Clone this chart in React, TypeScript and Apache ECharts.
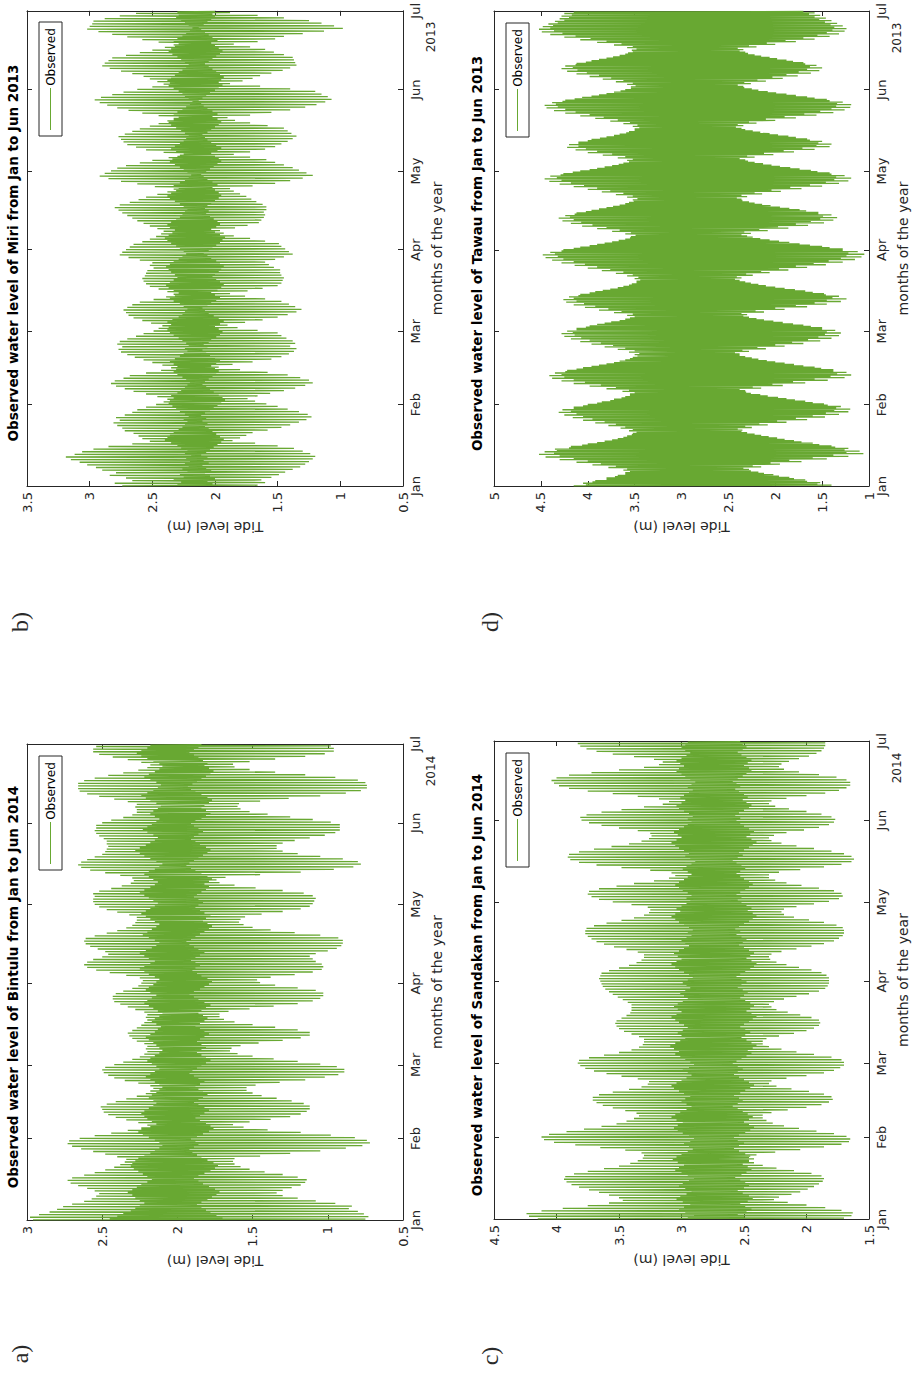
import React, { useEffect, useRef } from "react";
import * as echarts from "echarts";

// ---------- axis vocabulary ----------
const monthNames = ["Jan", "Feb", "Mar", "Apr", "May", "Jun", "Jul"];
const monthStartDays = [0, 31, 59, 90, 120, 151, 181];
// phase of the four daily turning points: higher high, lower low, lower high, higher low
const dailyPhase = [0.05, 0.3, 0.55, 0.8];

// ---------- Miri 2013 (m) ----------
const miriHH = [
  2.74, 2.8, 2.66, 2.71, 2.84, 2.79, 2.9, 2.95, 3.02, 3.08,
  3.15, 3.19, 3.12, 3.06, 2.97, 2.85, 2.66, 2.52, 2.58, 2.61,
  2.65, 2.72, 2.74, 2.78, 2.81, 2.76, 2.79, 2.72, 2.66, 2.62,
  2.55, 2.47, 2.41, 2.38, 2.46, 2.55, 2.65, 2.72, 2.79, 2.83,
  2.8, 2.73, 2.68, 2.55, 2.43, 2.35, 2.42, 2.5, 2.57, 2.64,
  2.7, 2.75, 2.77, 2.74, 2.78, 2.76, 2.7, 2.63, 2.57, 2.49,
  2.45, 2.42, 2.51, 2.58, 2.65, 2.69, 2.71, 2.73, 2.7, 2.66,
  2.6, 2.49, 2.39, 2.33, 2.38, 2.45, 2.52, 2.55, 2.57, 2.58,
  2.56, 2.55, 2.54, 2.49, 2.52, 2.5, 2.6, 2.69, 2.76, 2.74,
  2.71, 2.68, 2.65, 2.58, 2.52, 2.47, 2.43, 2.41, 2.46, 2.52,
  2.57, 2.62, 2.66, 2.7, 2.74, 2.77, 2.8, 2.76, 2.68, 2.61,
  2.55, 2.46, 2.38, 2.33, 2.48, 2.62, 2.75, 2.85, 2.92, 2.88,
  2.83, 2.78, 2.71, 2.6, 2.5, 2.37, 2.28, 2.41, 2.55, 2.63,
  2.7, 2.73, 2.75, 2.77, 2.72, 2.66, 2.6, 2.52, 2.45, 2.38,
  2.33, 2.45, 2.58, 2.69, 2.78, 2.86, 2.92, 2.96, 2.91, 2.82,
  2.73, 2.62, 2.5, 2.41, 2.46, 2.52, 2.57, 2.66, 2.75, 2.84,
  2.9, 2.88, 2.85, 2.82, 2.71, 2.6, 2.5, 2.4, 2.33, 2.45,
  2.58, 2.7, 2.82, 2.93, 3.02, 3.0, 2.98, 2.97, 2.88, 2.76,
  2.63,
];
const miriLL = [
  1.66, 1.6, 1.63, 1.55, 1.49, 1.44, 1.38, 1.32, 1.28, 1.25,
  1.22, 1.2, 1.24, 1.3, 1.37, 1.5, 1.68, 1.86, 1.8, 1.75,
  1.7, 1.58, 1.47, 1.4, 1.33, 1.27, 1.23, 1.26, 1.33, 1.42,
  1.5, 1.59, 1.68, 1.74, 1.66, 1.56, 1.45, 1.36, 1.28, 1.22,
  1.25, 1.32, 1.42, 1.58, 1.8, 1.97, 1.86, 1.7, 1.55, 1.47,
  1.41, 1.37, 1.35, 1.4, 1.36, 1.38, 1.43, 1.47, 1.5, 1.66,
  1.82, 1.9, 1.76, 1.62, 1.5, 1.42, 1.35, 1.31, 1.36, 1.41,
  1.47, 1.6, 1.76, 1.88, 1.74, 1.62, 1.5, 1.47, 1.46, 1.45,
  1.47, 1.48, 1.48, 1.53, 1.57, 1.6, 1.52, 1.45, 1.38, 1.41,
  1.44, 1.47, 1.49, 1.6, 1.72, 1.85, 1.93, 1.96, 1.84, 1.74,
  1.65, 1.63, 1.61, 1.6, 1.61, 1.59, 1.59, 1.62, 1.67, 1.71,
  1.75, 1.8, 1.85, 1.88, 1.7, 1.52, 1.4, 1.3, 1.22, 1.27,
  1.33, 1.38, 1.45, 1.52, 1.59, 1.72, 1.85, 1.72, 1.6, 1.52,
  1.47, 1.42, 1.38, 1.35, 1.39, 1.42, 1.45, 1.58, 1.72, 1.84,
  1.9, 1.72, 1.55, 1.4, 1.28, 1.19, 1.12, 1.07, 1.1, 1.15,
  1.2, 1.4, 1.64, 1.88, 1.78, 1.7, 1.64, 1.55, 1.46, 1.4,
  1.35, 1.36, 1.37, 1.38, 1.45, 1.53, 1.6, 1.72, 1.85, 1.66,
  1.52, 1.45, 1.3, 1.13, 0.98, 1.05, 1.15, 1.25, 1.45, 1.66,
  1.88,
];
const miriLH = [
  2.3, 2.27, 2.33, 2.25, 2.28, 2.22, 2.26, 2.21, 2.24, 2.2,
  2.23, 2.19, 2.24, 2.22, 2.27, 2.3, 2.35, 2.4, 2.38, 2.36,
  2.33, 2.29, 2.26, 2.24, 2.22, 2.25, 2.21, 2.24, 2.28, 2.31,
  2.34, 2.37, 2.36, 2.33, 2.35, 2.3, 2.27, 2.24, 2.22, 2.2,
  2.23, 2.26, 2.3, 2.33, 2.31, 2.3, 2.33, 2.36, 2.32, 2.28,
  2.25, 2.22, 2.24, 2.21, 2.23, 2.26, 2.29, 2.33, 2.36, 2.38,
  2.37, 2.35, 2.38, 2.34, 2.29, 2.26, 2.24, 2.22, 2.25, 2.28,
  2.33, 2.36, 2.32, 2.29, 2.33, 2.37, 2.39, 2.36, 2.33, 2.3,
  2.32, 2.35, 2.37, 2.39, 2.36, 2.33, 2.29, 2.26, 2.23, 2.25,
  2.28, 2.31, 2.35, 2.38, 2.4, 2.37, 2.34, 2.32, 2.36, 2.38,
  2.35, 2.31, 2.28, 2.26, 2.24, 2.22, 2.25, 2.28, 2.32, 2.36,
  2.38, 2.35, 2.31, 2.29, 2.33, 2.28, 2.24, 2.21, 2.19, 2.22,
  2.25, 2.28, 2.32, 2.36, 2.34, 2.3, 2.25, 2.31, 2.35, 2.32,
  2.28, 2.25, 2.23, 2.21, 2.24, 2.27, 2.31, 2.35, 2.37, 2.33,
  2.29, 2.33, 2.3, 2.26, 2.23, 2.2, 2.18, 2.21, 2.24, 2.26,
  2.29, 2.33, 2.37, 2.36, 2.38, 2.35, 2.32, 2.29, 2.26, 2.23,
  2.21, 2.24, 2.27, 2.3, 2.34, 2.37, 2.35, 2.32, 2.29, 2.33,
  2.3, 2.26, 2.23, 2.2, 2.18, 2.21, 2.24, 2.27, 2.31, 2.29,
  2.3,
];
const miriHL = [
  2.02, 2.06, 2.0, 2.04, 2.08, 2.03, 2.07, 2.1, 2.05, 2.09,
  2.06, 2.11, 2.07, 2.04, 2.01, 1.98, 1.95, 1.93, 1.96, 1.99,
  2.02, 2.05, 2.08, 2.06, 2.1, 2.07, 2.11, 2.08, 2.04, 2.01,
  1.98, 1.95, 1.92, 1.94, 1.97, 2.01, 2.04, 2.07, 2.1, 2.08,
  2.05, 2.02, 1.99, 1.97, 2.0, 2.03, 1.99, 1.96, 2.0, 2.04,
  2.07, 2.1, 2.06, 2.09, 2.05, 2.03, 1.99, 1.96, 1.94, 1.97,
  2.0, 1.96, 1.93, 1.97, 2.01, 2.05, 2.08, 2.1, 2.06, 2.03,
  1.99, 1.96, 2.0, 2.03, 1.98, 1.95, 1.93, 1.96, 1.99, 2.02,
  2.0, 1.97, 1.95, 1.93, 1.96, 1.99, 2.03, 2.06, 2.09, 2.05,
  2.02, 1.99, 1.96, 1.94, 1.92, 1.96, 2.0, 2.03, 1.99, 1.96,
  1.98, 2.01, 2.04, 2.07, 2.05, 2.08, 2.06, 2.03, 2.0, 1.97,
  1.95, 1.97, 2.0, 2.02, 1.98, 2.02, 2.06, 2.09, 2.11, 2.07,
  2.04, 2.01, 1.98, 1.95, 1.97, 2.0, 2.03, 1.98, 1.95, 1.99,
  2.03, 2.06, 2.08, 2.1, 2.06, 2.03, 2.0, 1.97, 1.95, 1.98,
  2.02, 1.98, 2.02, 2.06, 2.09, 2.11, 2.13, 2.1, 2.07, 2.04,
  2.0, 1.97, 1.94, 1.97, 1.95, 1.93, 1.96, 1.99, 2.02, 2.05,
  2.08, 2.05, 2.02, 1.99, 1.96, 1.94, 1.97, 2.0, 2.03, 1.98,
  2.02, 2.05, 2.08, 2.11, 2.13, 2.09, 2.06, 2.03, 2.0, 2.02,
  2.0,
];

// ---------- Tawau 2013 (m) ----------
const tawauHH = [
  4.15, 4.05, 3.92, 3.8, 3.68, 3.6, 3.62, 3.78, 3.95, 4.12,
  4.3, 4.45, 4.52, 4.46, 4.35, 4.18, 4.0, 3.82, 3.68, 3.58,
  3.52, 3.56, 3.65, 3.78, 3.92, 4.05, 4.16, 4.25, 4.31, 4.27,
  4.15, 4.0, 3.85, 3.72, 3.6, 3.55, 3.63, 3.8, 3.98, 4.15,
  4.28, 4.38, 4.41, 4.35, 4.22, 4.05, 3.88, 3.72, 3.6, 3.52,
  3.5, 3.56, 3.68, 3.82, 3.96, 4.08, 4.18, 4.25, 4.28, 4.22,
  4.12, 3.98, 3.82, 3.66, 3.55, 3.58, 3.72, 3.88, 4.03, 4.15,
  4.23, 4.26, 4.2, 4.08, 3.92, 3.76, 3.62, 3.53, 3.48, 3.5,
  3.58, 3.7, 3.85, 4.0, 4.14, 4.28, 4.38, 4.45, 4.48, 4.4,
  4.26, 4.08, 3.9, 3.74, 3.6, 3.54, 3.6, 3.74, 3.9, 4.06,
  4.18, 4.27, 4.31, 4.24, 4.12, 3.96, 3.8, 3.66, 3.56, 3.52,
  3.58, 3.7, 3.85, 4.0, 4.15, 4.3, 4.41, 4.46, 4.4, 4.26,
  4.08, 3.9, 3.74, 3.62, 3.58, 3.68, 3.84, 4.0, 4.13, 4.22,
  4.2, 4.1, 3.96, 3.8, 3.66, 3.56, 3.5, 3.52, 3.62, 3.76,
  3.92, 4.08, 4.24, 4.36, 4.44, 4.46, 4.38, 4.24, 4.06, 3.88,
  3.72, 3.6, 3.54, 3.58, 3.7, 3.84, 3.98, 4.12, 4.22, 4.28,
  4.24, 4.12, 3.96, 3.8, 3.66, 3.57, 3.53, 3.58, 3.72, 3.9,
  4.08, 4.25, 4.4, 4.49, 4.52, 4.48, 4.42, 4.35, 4.3, 4.28,
  4.25,
];
const tawauLL = [
  1.4, 1.52, 1.68, 1.85, 2.02, 2.18, 2.28, 2.15, 1.95, 1.72,
  1.45, 1.22, 1.06, 1.1, 1.22, 1.4, 1.6, 1.8, 1.98, 2.15,
  2.3, 2.35, 2.25, 2.08, 1.88, 1.66, 1.47, 1.32, 1.22, 1.2,
  1.3, 1.48, 1.68, 1.88, 2.08, 2.26, 2.32, 2.15, 1.92, 1.68,
  1.44, 1.26, 1.19, 1.24, 1.38, 1.58, 1.8, 2.0, 2.18, 2.32,
  2.38, 2.28, 2.1, 1.9, 1.7, 1.52, 1.4, 1.32, 1.3, 1.36,
  1.5, 1.7, 1.92, 2.12, 2.28, 2.3, 2.12, 1.9, 1.66, 1.45,
  1.3, 1.24, 1.32, 1.48, 1.68, 1.9, 2.1, 2.26, 2.38, 2.36,
  2.24, 2.06, 1.86, 1.66, 1.46, 1.28, 1.15, 1.08, 1.05, 1.12,
  1.28, 1.5, 1.74, 1.96, 2.16, 2.3, 2.26, 2.08, 1.86, 1.65,
  1.48, 1.38, 1.34, 1.4, 1.54, 1.74, 1.95, 2.14, 2.28, 2.36,
  2.3, 2.14, 1.94, 1.72, 1.5, 1.32, 1.22, 1.19, 1.26, 1.42,
  1.62, 1.84, 2.04, 2.22, 2.32, 2.22, 2.02, 1.8, 1.58, 1.42,
  1.4, 1.5, 1.66, 1.86, 2.06, 2.24, 2.36, 2.34, 2.2, 2.0,
  1.78, 1.56, 1.38, 1.26, 1.2, 1.19, 1.28, 1.45, 1.66, 1.88,
  2.08, 2.25, 2.34, 2.26, 2.1, 1.92, 1.76, 1.62, 1.53, 1.5,
  1.56, 1.7, 1.88, 2.06, 2.22, 2.32, 2.34, 2.2, 2.0, 1.78,
  1.58, 1.42, 1.32, 1.26, 1.24, 1.28, 1.34, 1.4, 1.46, 1.52,
  1.58,
];
const tawauLH = [
  4.02, 3.95, 3.8, 3.71, 3.6, 3.55, 3.58, 3.7, 3.86, 4.0,
  4.15, 4.3, 4.36, 4.33, 4.2, 4.06, 3.9, 3.74, 3.62, 3.53,
  3.48, 3.52, 3.6, 3.7, 3.82, 3.95, 4.05, 4.12, 4.18, 4.15,
  4.05, 3.9, 3.76, 3.64, 3.55, 3.5, 3.56, 3.7, 3.86, 4.03,
  4.15, 4.25, 4.28, 4.24, 4.12, 3.96, 3.8, 3.66, 3.55, 3.47,
  3.45, 3.5, 3.6, 3.73, 3.86, 3.98, 4.07, 4.14, 4.16, 4.12,
  4.02, 3.9, 3.75, 3.6, 3.5, 3.52, 3.64, 3.78, 3.92, 4.04,
  4.12, 4.15, 4.1, 3.98, 3.84, 3.68, 3.56, 3.48, 3.44, 3.46,
  3.52, 3.62, 3.76, 3.9, 4.03, 4.15, 4.26, 4.32, 4.35, 4.28,
  4.15, 3.98, 3.82, 3.67, 3.55, 3.49, 3.54, 3.66, 3.8, 3.95,
  4.07, 4.15, 4.19, 4.14, 4.02, 3.88, 3.73, 3.6, 3.51, 3.47,
  3.52, 3.62, 3.76, 3.9, 4.04, 4.18, 4.28, 4.33, 4.29, 4.16,
  3.98, 3.82, 3.67, 3.56, 3.52, 3.6, 3.74, 3.9, 4.02, 4.1,
  4.1, 4.0, 3.87, 3.72, 3.59, 3.5, 3.45, 3.47, 3.55, 3.68,
  3.83, 3.98, 4.13, 4.24, 4.32, 4.34, 4.27, 4.14, 3.96, 3.8,
  3.65, 3.54, 3.49, 3.52, 3.62, 3.75, 3.88, 4.01, 4.11, 4.16,
  4.13, 4.02, 3.88, 3.73, 3.6, 3.52, 3.48, 3.52, 3.64, 3.8,
  3.97, 4.13, 4.27, 4.36, 4.4, 4.37, 4.32, 4.25, 4.2, 4.17,
  4.15,
];
const tawauHL = [
  1.55, 1.66, 1.8, 1.96, 2.12, 2.26, 2.34, 2.24, 2.05, 1.85,
  1.6, 1.38, 1.24, 1.26, 1.36, 1.53, 1.72, 1.9, 2.07, 2.22,
  2.36, 2.4, 2.32, 2.17, 1.98, 1.78, 1.6, 1.46, 1.37, 1.35,
  1.44, 1.6, 1.79, 1.97, 2.16, 2.31, 2.38, 2.24, 2.03, 1.81,
  1.58, 1.41, 1.34, 1.38, 1.51, 1.7, 1.9, 2.09, 2.25, 2.38,
  2.43, 2.35, 2.19, 2.0, 1.82, 1.65, 1.54, 1.47, 1.45, 1.5,
  1.62, 1.81, 2.02, 2.2, 2.34, 2.36, 2.21, 2.0, 1.78, 1.58,
  1.45, 1.39, 1.46, 1.6, 1.79, 2.0, 2.18, 2.32, 2.43, 2.41,
  2.31, 2.15, 1.96, 1.78, 1.59, 1.43, 1.3, 1.24, 1.22, 1.28,
  1.42, 1.63, 1.85, 2.06, 2.24, 2.36, 2.33, 2.17, 1.97, 1.78,
  1.62, 1.52, 1.49, 1.54, 1.67, 1.85, 2.05, 2.22, 2.35, 2.41,
  2.36, 2.22, 2.04, 1.84, 1.63, 1.46, 1.37, 1.35, 1.4, 1.55,
  1.74, 1.95, 2.13, 2.29, 2.38, 2.3, 2.12, 1.91, 1.71, 1.56,
  1.54, 1.63, 1.78, 1.97, 2.16, 2.32, 2.42, 2.4, 2.28, 2.1,
  1.9, 1.69, 1.52, 1.4, 1.35, 1.34, 1.42, 1.58, 1.78, 1.99,
  2.18, 2.33, 2.4, 2.33, 2.19, 2.03, 1.88, 1.75, 1.66, 1.63,
  1.68, 1.81, 1.98, 2.15, 2.29, 2.38, 2.4, 2.28, 2.09, 1.89,
  1.7, 1.55, 1.45, 1.39, 1.37, 1.41, 1.47, 1.53, 1.58, 1.64,
  1.7,
];

// ---------- Bintulu 2014 (m) ----------
const bintuluHH = [
  2.96, 2.98, 2.92, 2.85, 2.8, 2.76, 2.7, 2.62, 2.57, 2.54,
  2.52, 2.55, 2.6, 2.66, 2.71, 2.73, 2.7, 2.62, 2.55, 2.48,
  2.42, 2.38, 2.35, 2.34, 2.4, 2.48, 2.56, 2.64, 2.7, 2.73,
  2.72, 2.65, 2.55, 2.44, 2.33, 2.24, 2.2, 2.26, 2.34, 2.41,
  2.46, 2.49, 2.5, 2.51, 2.47, 2.41, 2.34, 2.27, 2.21, 2.18,
  2.16, 2.18, 2.26, 2.35, 2.42, 2.46, 2.49, 2.5, 2.48, 2.42,
  2.36, 2.3, 2.25, 2.22, 2.2, 2.21, 2.2, 2.22, 2.27, 2.3,
  2.32, 2.33, 2.3, 2.27, 2.24, 2.22, 2.2, 2.21, 2.2, 2.22,
  2.28, 2.33, 2.38, 2.42, 2.43, 2.43, 2.41, 2.36, 2.3, 2.26,
  2.24, 2.23, 2.25, 2.34, 2.45, 2.54, 2.6, 2.62, 2.6, 2.56,
  2.5, 2.46, 2.48, 2.53, 2.58, 2.61, 2.62, 2.61, 2.55, 2.47,
  2.4, 2.34, 2.3, 2.28, 2.27, 2.27, 2.32, 2.4, 2.47, 2.52,
  2.55, 2.56, 2.56, 2.55, 2.56, 2.52, 2.44, 2.37, 2.31, 2.29,
  2.3, 2.38, 2.48, 2.58, 2.64, 2.66, 2.64, 2.6, 2.55, 2.5,
  2.48, 2.47, 2.46, 2.47, 2.47, 2.49, 2.52, 2.54, 2.55, 2.54,
  2.54, 2.5, 2.44, 2.36, 2.3, 2.27, 2.27, 2.28, 2.27, 2.33,
  2.42, 2.52, 2.6, 2.65, 2.66, 2.66, 2.66, 2.62, 2.55, 2.46,
  2.36, 2.26, 2.2, 2.18, 2.24, 2.33, 2.43, 2.52, 2.56, 2.56,
  2.54,
];
const bintuluLL = [
  0.75, 0.73, 0.76, 0.8, 0.86, 0.84, 0.95, 1.08, 1.2, 1.3,
  1.34, 1.3, 1.24, 1.18, 1.15, 1.14, 1.2, 1.3, 1.42, 1.52,
  1.58, 1.62, 1.63, 1.62, 1.45, 1.25, 1.05, 0.88, 0.77, 0.72,
  0.74, 0.82, 0.98, 1.18, 1.4, 1.56, 1.63, 1.52, 1.38, 1.25,
  1.18, 1.14, 1.12, 1.12, 1.16, 1.24, 1.34, 1.44, 1.5, 1.54,
  1.54, 1.48, 1.32, 1.15, 1.02, 0.93, 0.89, 0.89, 0.94, 1.05,
  1.2, 1.36, 1.5, 1.6, 1.65, 1.64, 1.58, 1.46, 1.3, 1.18,
  1.12, 1.12, 1.2, 1.35, 1.5, 1.62, 1.69, 1.72, 1.72, 1.66,
  1.52, 1.36, 1.2, 1.1, 1.05, 1.03, 1.03, 1.08, 1.2, 1.35,
  1.45, 1.47, 1.38, 1.22, 1.1, 1.04, 1.03, 1.04, 1.08, 1.1,
  1.12, 1.08, 1.0, 0.94, 0.91, 0.9, 0.9, 0.93, 1.05, 1.22,
  1.38, 1.5, 1.56, 1.59, 1.58, 1.55, 1.44, 1.3, 1.18, 1.12,
  1.1, 1.09, 1.08, 1.1, 1.16, 1.3, 1.48, 1.62, 1.72, 1.74,
  1.68, 1.45, 1.18, 0.96, 0.83, 0.78, 0.8, 0.9, 1.05, 1.2,
  1.3, 1.34, 1.34, 1.3, 1.22, 1.12, 1.02, 0.95, 0.92, 0.92,
  0.92, 0.98, 1.1, 1.25, 1.4, 1.52, 1.58, 1.6, 1.59, 1.45,
  1.26, 1.05, 0.88, 0.78, 0.74, 0.74, 0.75, 0.8, 0.95, 1.15,
  1.35, 1.52, 1.62, 1.63, 1.52, 1.35, 1.15, 1.02, 0.96, 0.96,
  0.98,
];
const bintuluLH = [
  2.45, 2.4, 2.36, 2.31, 2.28, 2.25, 2.22, 2.25, 2.28, 2.3,
  2.33, 2.3, 2.27, 2.24, 2.2, 2.17, 2.2, 2.23, 2.26, 2.29,
  2.31, 2.3, 2.28, 2.26, 2.22, 2.18, 2.15, 2.12, 2.1, 2.12,
  2.15, 2.19, 2.23, 2.26, 2.24, 2.18, 2.14, 2.17, 2.2, 2.22,
  2.24, 2.22, 2.19, 2.16, 2.14, 2.16, 2.19, 2.17, 2.14, 2.12,
  2.1, 2.12, 2.15, 2.18, 2.21, 2.18, 2.15, 2.12, 2.14, 2.17,
  2.2, 2.18, 2.15, 2.12, 2.1, 2.12, 2.14, 2.16, 2.19, 2.21,
  2.18, 2.15, 2.13, 2.11, 2.14, 2.17, 2.15, 2.12, 2.1, 2.13,
  2.16, 2.19, 2.22, 2.2, 2.17, 2.14, 2.18, 2.21, 2.19, 2.16,
  2.14, 2.12, 2.15, 2.19, 2.22, 2.25, 2.22, 2.18, 2.15, 2.19,
  2.22, 2.25, 2.21, 2.17, 2.14, 2.12, 2.15, 2.19, 2.23, 2.2,
  2.17, 2.14, 2.12, 2.15, 2.18, 2.21, 2.24, 2.21, 2.18, 2.15,
  2.13, 2.16, 2.19, 2.22, 2.25, 2.22, 2.18, 2.15, 2.13, 2.16,
  2.19, 2.22, 2.19, 2.15, 2.12, 2.1, 2.14, 2.18, 2.22, 2.25,
  2.28, 2.25, 2.21, 2.18, 2.15, 2.13, 2.16, 2.2, 2.23, 2.2,
  2.17, 2.14, 2.12, 2.15, 2.18, 2.16, 2.13, 2.11, 2.14, 2.18,
  2.21, 2.24, 2.2, 2.16, 2.13, 2.11, 2.14, 2.18, 2.22, 2.19,
  2.15, 2.12, 2.1, 2.12, 2.16, 2.2, 2.24, 2.27, 2.24, 2.2,
  2.18,
];
const bintuluHL = [
  1.7, 1.74, 1.78, 1.81, 1.84, 1.87, 1.84, 1.8, 1.77, 1.74,
  1.72, 1.75, 1.79, 1.83, 1.86, 1.89, 1.86, 1.82, 1.78, 1.75,
  1.73, 1.76, 1.8, 1.84, 1.87, 1.9, 1.92, 1.89, 1.86, 1.88,
  1.91, 1.87, 1.83, 1.79, 1.76, 1.78, 1.81, 1.85, 1.88, 1.85,
  1.82, 1.79, 1.82, 1.86, 1.89, 1.86, 1.83, 1.8, 1.83, 1.86,
  1.88, 1.85, 1.82, 1.86, 1.89, 1.92, 1.9, 1.87, 1.84, 1.81,
  1.78, 1.81, 1.84, 1.87, 1.84, 1.81, 1.84, 1.87, 1.85, 1.82,
  1.79, 1.82, 1.85, 1.88, 1.85, 1.82, 1.8, 1.83, 1.86, 1.84,
  1.81, 1.78, 1.82, 1.86, 1.89, 1.92, 1.89, 1.85, 1.82, 1.79,
  1.77, 1.8, 1.84, 1.87, 1.9, 1.88, 1.85, 1.88, 1.91, 1.88,
  1.85, 1.82, 1.86, 1.89, 1.92, 1.94, 1.91, 1.88, 1.85, 1.82,
  1.79, 1.77, 1.8, 1.83, 1.81, 1.78, 1.82, 1.85, 1.88, 1.86,
  1.83, 1.86, 1.89, 1.87, 1.84, 1.81, 1.79, 1.82, 1.79, 1.77,
  1.8, 1.84, 1.88, 1.91, 1.94, 1.92, 1.89, 1.86, 1.83, 1.8,
  1.78, 1.81, 1.85, 1.88, 1.91, 1.89, 1.86, 1.83, 1.86, 1.89,
  1.91, 1.88, 1.84, 1.81, 1.78, 1.81, 1.84, 1.82, 1.79, 1.77,
  1.8, 1.84, 1.88, 1.91, 1.93, 1.9, 1.87, 1.84, 1.81, 1.78,
  1.76, 1.79, 1.82, 1.8, 1.83, 1.86, 1.89, 1.92, 1.89, 1.86,
  1.84,
];

// ---------- Sandakan 2014 (m) ----------
const sandakanHH = [
  4.15, 4.22, 4.24, 4.12, 3.95, 3.75, 3.58, 3.47, 3.5, 3.58,
  3.66, 3.74, 3.82, 3.88, 3.92, 3.94, 3.93, 3.86, 3.75, 3.62,
  3.5, 3.41, 3.35, 3.31, 3.3, 3.32, 3.45, 3.65, 3.85, 4.02,
  4.1, 4.12, 4.06, 3.92, 3.78, 3.64, 3.52, 3.44, 3.38, 3.34,
  3.36, 3.45, 3.55, 3.63, 3.68, 3.71, 3.71, 3.66, 3.55, 3.42,
  3.32, 3.27, 3.26, 3.35, 3.48, 3.6, 3.7, 3.77, 3.81, 3.83,
  3.82, 3.74, 3.62, 3.5, 3.4, 3.34, 3.31, 3.3, 3.3, 3.34,
  3.4, 3.46, 3.5, 3.52, 3.53, 3.52, 3.48, 3.44, 3.41, 3.4,
  3.4, 3.4, 3.43, 3.47, 3.51, 3.55, 3.58, 3.61, 3.63, 3.64,
  3.65, 3.66, 3.65, 3.64, 3.58, 3.5, 3.42, 3.36, 3.32, 3.3,
  3.3, 3.35, 3.44, 3.54, 3.62, 3.68, 3.72, 3.75, 3.77, 3.77,
  3.76, 3.7, 3.6, 3.48, 3.38, 3.3, 3.26, 3.25, 3.27, 3.4,
  3.55, 3.66, 3.72, 3.75, 3.74, 3.66, 3.52, 3.38, 3.22, 3.1,
  3.05, 3.08, 3.25, 3.48, 3.68, 3.82, 3.89, 3.91, 3.9, 3.82,
  3.7, 3.56, 3.42, 3.32, 3.26, 3.24, 3.25, 3.35, 3.5, 3.64,
  3.74, 3.8, 3.81, 3.76, 3.64, 3.48, 3.3, 3.15, 3.1, 3.18,
  3.35, 3.55, 3.75, 3.9, 3.98, 4.02, 4.04, 4.0, 3.9, 3.72,
  3.5, 3.3, 3.18, 3.15, 3.22, 3.38, 3.55, 3.68, 3.76, 3.81,
  3.83,
];
const sandakanLL = [
  1.7, 1.64, 1.63, 1.72, 1.85, 2.0, 2.15, 2.26, 2.22, 2.12,
  2.05, 1.99, 1.94, 1.9, 1.87, 1.86, 1.88, 1.96, 2.1, 2.24,
  2.35, 2.42, 2.46, 2.46, 2.4, 2.25, 2.05, 1.86, 1.72, 1.66,
  1.65, 1.68, 1.78, 1.92, 2.06, 2.18, 2.27, 2.32, 2.35, 2.35,
  2.28, 2.15, 2.0, 1.88, 1.82, 1.79, 1.8, 1.86, 1.98, 2.12,
  2.24, 2.3, 2.28, 2.16, 2.0, 1.86, 1.78, 1.73, 1.7, 1.7,
  1.72, 1.8, 1.94, 2.08, 2.2, 2.3, 2.35, 2.35, 2.32, 2.22,
  2.1, 2.0, 1.94, 1.9, 1.89, 1.9, 1.96, 2.05, 2.15, 2.24,
  2.28, 2.3, 2.26, 2.18, 2.08, 1.98, 1.9, 1.85, 1.83, 1.82,
  1.82, 1.82, 1.84, 1.88, 1.96, 2.06, 2.16, 2.24, 2.29, 2.3,
  2.28, 2.2, 2.08, 1.96, 1.86, 1.78, 1.74, 1.71, 1.7, 1.7,
  1.71, 1.76, 1.86, 1.98, 2.1, 2.18, 2.2, 2.18, 2.08, 1.94,
  1.82, 1.74, 1.71, 1.72, 1.78, 1.9, 2.04, 2.16, 2.25, 2.3,
  2.3, 2.22, 2.05, 1.86, 1.72, 1.64, 1.62, 1.64, 1.7, 1.8,
  1.94, 2.08, 2.2, 2.28, 2.3, 2.26, 2.16, 2.02, 1.9, 1.82,
  1.78, 1.77, 1.8, 1.88, 2.0, 2.14, 2.25, 2.3, 2.28, 2.16,
  2.0, 1.85, 1.74, 1.68, 1.65, 1.65, 1.68, 1.76, 1.9, 2.06,
  2.18, 2.22, 2.2, 2.14, 2.06, 1.98, 1.92, 1.88, 1.86, 1.85,
  1.85,
];
const sandakanLH = [
  2.95, 2.9, 2.97, 3.02, 2.98, 2.93, 2.99, 3.04, 3.01, 2.96,
  2.92, 2.97, 3.02, 2.99, 2.94, 2.9, 2.95, 3.0, 3.05, 3.02,
  2.98, 3.03, 3.07, 3.04, 3.0, 2.95, 2.91, 2.94, 2.98, 2.93,
  2.9, 2.94, 2.99, 3.03, 3.06, 3.03, 2.99, 3.04, 3.08, 3.05,
  3.01, 2.96, 2.92, 2.96, 3.0, 2.97, 2.93, 2.98, 3.02, 3.06,
  3.08, 3.04, 3.0, 2.96, 2.92, 2.95, 2.99, 2.94, 2.9, 2.93,
  2.97, 3.01, 3.05, 3.02, 3.06, 3.09, 3.05, 3.01, 2.97, 3.0,
  3.03, 2.99, 2.95, 2.98, 3.02, 3.05, 3.08, 3.04, 3.0, 3.03,
  3.06, 3.03, 2.99, 2.95, 2.98, 3.01, 2.97, 2.93, 2.96, 2.99,
  2.95, 2.91, 2.94, 2.98, 3.02, 3.05, 3.08, 3.04, 3.0, 3.03,
  3.06, 3.02, 2.98, 2.94, 2.97, 3.0, 2.96, 2.92, 2.95, 2.91,
  2.94, 2.98, 3.02, 3.05, 3.08, 3.05, 3.01, 3.04, 3.0, 2.96,
  2.93, 2.96, 2.92, 2.95, 2.99, 3.02, 3.05, 3.02, 2.98, 2.95,
  2.92, 2.95, 2.99, 2.96, 2.92, 2.89, 2.93, 2.97, 2.94, 2.98,
  3.02, 3.05, 3.08, 3.04, 3.0, 3.03, 3.06, 3.02, 2.98, 2.95,
  2.92, 2.95, 2.91, 2.94, 2.98, 3.02, 3.04, 3.0, 2.97, 3.01,
  2.98, 2.94, 2.91, 2.95, 2.92, 2.89, 2.93, 2.97, 3.0, 3.04,
  3.02, 2.98, 3.01, 3.04, 3.0, 2.96, 2.93, 2.97, 3.0, 2.97,
  2.95,
];
const sandakanHL = [
  2.5, 2.55, 2.48, 2.44, 2.49, 2.53, 2.47, 2.43, 2.46, 2.51,
  2.55, 2.5, 2.46, 2.49, 2.53, 2.57, 2.52, 2.48, 2.44, 2.47,
  2.51, 2.46, 2.42, 2.45, 2.49, 2.54, 2.58, 2.54, 2.5, 2.55,
  2.58, 2.54, 2.49, 2.45, 2.42, 2.46, 2.5, 2.46, 2.43, 2.47,
  2.51, 2.55, 2.59, 2.55, 2.51, 2.54, 2.58, 2.53, 2.49, 2.45,
  2.42, 2.46, 2.5, 2.54, 2.58, 2.55, 2.51, 2.55, 2.59, 2.56,
  2.52, 2.48, 2.44, 2.47, 2.43, 2.4, 2.44, 2.48, 2.52, 2.49,
  2.45, 2.49, 2.53, 2.5, 2.46, 2.43, 2.4, 2.44, 2.48, 2.45,
  2.42, 2.45, 2.49, 2.53, 2.5, 2.47, 2.51, 2.55, 2.52, 2.48,
  2.52, 2.56, 2.53, 2.49, 2.45, 2.42, 2.4, 2.44, 2.48, 2.45,
  2.42, 2.46, 2.5, 2.54, 2.51, 2.48, 2.52, 2.56, 2.53, 2.57,
  2.54, 2.5, 2.46, 2.43, 2.4, 2.43, 2.47, 2.44, 2.48, 2.52,
  2.55, 2.52, 2.56, 2.53, 2.49, 2.46, 2.43, 2.46, 2.5, 2.53,
  2.56, 2.53, 2.49, 2.52, 2.56, 2.59, 2.55, 2.51, 2.54, 2.5,
  2.46, 2.43, 2.4, 2.44, 2.48, 2.45, 2.42, 2.46, 2.5, 2.53,
  2.56, 2.53, 2.57, 2.54, 2.5, 2.46, 2.44, 2.48, 2.51, 2.47,
  2.5, 2.54, 2.57, 2.53, 2.56, 2.59, 2.55, 2.51, 2.48, 2.44,
  2.46, 2.5, 2.47, 2.44, 2.48, 2.52, 2.55, 2.51, 2.48, 2.51,
  2.53,
];

// ---------- styling ----------
const LINE_COLOR = "#68a832";
const AXIS_COLOR = "#262626";
const SANS = '"DejaVu Sans", "Liberation Sans", sans-serif';

type Panel = {
  letter: string;
  station: string;
  year: string;
  min: number;
  max: number;
  hh: number[];
  ll: number[];
  lh: number[];
  hl: number[];
  left: number;
  top: number;
  width: number;
  height: number;
  titleX: number;
  letterX: number;
  letterY: number;
};

const panels: Panel[] = [
  { letter: "b)", station: "Miri", year: "2013", min: 0.5, max: 3.5, hh: miriHH, ll: miriLL, lh: miriLH, hl: miriHL,
    left: 27, top: 10, width: 376, height: 476, titleX: 13, letterX: 20, letterY: 622 },
  { letter: "d)", station: "Tawau", year: "2013", min: 1, max: 5, hh: tawauHH, ll: tawauLL, lh: tawauLH, hl: tawauHL,
    left: 494, top: 11, width: 375, height: 475, titleX: 477, letterX: 490, letterY: 622 },
  { letter: "a)", station: "Bintulu", year: "2014", min: 0.5, max: 3, hh: bintuluHH, ll: bintuluLL, lh: bintuluLH, hl: bintuluHL,
    left: 27, top: 744, width: 376, height: 476, titleX: 13, letterX: 20, letterY: 1354 },
  { letter: "c)", station: "Sandakan", year: "2014", min: 1.5, max: 4.5, hh: sandakanHH, ll: sandakanLL, lh: sandakanLH, hl: sandakanHL,
    left: 494, top: 741, width: 375, height: 478, titleX: 477, letterX: 490, letterY: 1356 },
];

function buildSeries(p: Panel): [number, number][] {
  const out: [number, number][] = [];
  for (let d = 0; d < p.hh.length; d++) {
    out.push([p.hh[d], d + dailyPhase[0]]);
    out.push([p.ll[d], d + dailyPhase[1]]);
    out.push([p.lh[d], d + dailyPhase[2]]);
    out.push([p.hl[d], d + dailyPhase[3]]);
  }
  return out;
}

function buildOption() {
  const grid: any[] = [];
  const xAxis: any[] = [];
  const yAxis: any[] = [];
  const series: any[] = [];
  const graphic: any[] = [];

  panels.forEach((p, i) => {
    grid.push({ left: p.left, top: p.top, width: p.width, height: p.height, containLabel: false });

    const tick = { show: true, inside: true, length: 5, lineStyle: { color: AXIS_COLOR, width: 1 } };
    const line = { show: true, onZero: false, lineStyle: { color: AXIS_COLOR, width: 1 } };

    xAxis.push({
      gridIndex: i, type: "value", min: p.min, max: p.max, interval: 0.5, inverse: true, position: "bottom",
      axisLine: line, axisTick: tick, splitLine: { show: false },
      axisLabel: { rotate: 90, fontSize: 13, fontFamily: SANS, color: AXIS_COLOR, margin: 6 },
      name: "Tide level (m)", nameLocation: "middle", nameGap: 34, nameRotate: 180,
      nameTextStyle: { fontSize: 14, fontFamily: SANS, color: AXIS_COLOR },
    });
    xAxis.push({
      gridIndex: i, type: "value", min: p.min, max: p.max, interval: 0.5, inverse: true, position: "top",
      axisLine: line, axisTick: tick, splitLine: { show: false }, axisLabel: { show: false },
    });

    yAxis.push({
      gridIndex: i, type: "value", min: 0, max: 181, position: "right",
      axisLine: line, axisTick: { ...tick, customValues: monthStartDays }, splitLine: { show: false },
      axisLabel: {
        rotate: 90, fontSize: 13, fontFamily: SANS, color: AXIS_COLOR, margin: 6,
        customValues: monthStartDays,
        formatter: (v: number) => monthNames[monthStartDays.indexOf(Math.round(v))] ?? "",
      },
      name: "months of the year", nameLocation: "middle", nameGap: 27, nameRotate: 90,
      nameTextStyle: { fontSize: 14, fontFamily: SANS, color: AXIS_COLOR },
    });
    yAxis.push({
      gridIndex: i, type: "value", min: 0, max: 181, position: "left",
      axisLine: line, axisTick: { ...tick, customValues: monthStartDays }, splitLine: { show: false },
      axisLabel: { show: false },
    });

    series.push({
      type: "line", name: "Observed", xAxisIndex: i * 2, yAxisIndex: i * 2,
      data: buildSeries(p), symbol: "none", showSymbol: false, silent: true,
      lineStyle: { color: LINE_COLOR, width: 1.3 }, itemStyle: { color: LINE_COLOR },
      clip: true, animation: false,
    });

    const right = p.left + p.width;
    const midY = p.top + p.height / 2 + 5;
    // title
    graphic.push({
      type: "text", x: p.titleX, y: midY, rotation: Math.PI / 2, z: 100,
      style: {
        text: `Observed water level of ${p.station} from Jan to Jun ${p.year}`,
        font: `bold 13.5px ${SANS}`, fill: "#000", align: "center", verticalAlign: "middle",
      },
    });
    // year under the last month tick
    graphic.push({
      type: "text", x: right + 28, y: p.top + 27, rotation: Math.PI / 2, z: 100,
      style: { text: p.year, font: `12px ${SANS}`, fill: AXIS_COLOR, align: "center", verticalAlign: "middle" },
    });
    // legend box
    const bx = p.left + 12;
    const by = p.top + 12;
    graphic.push({
      type: "rect", z: 100, shape: { x: bx, y: by, width: 23, height: 114 },
      style: { fill: "#fff", stroke: AXIS_COLOR, lineWidth: 1 },
    });
    graphic.push({
      type: "text", x: bx + 11.5, y: by + 35, rotation: Math.PI / 2, z: 101,
      style: { text: "Observed", font: `12px ${SANS}`, fill: "#000", align: "center", verticalAlign: "middle" },
    });
    graphic.push({
      type: "line", z: 101, shape: { x1: bx + 11.5, y1: by + 66, x2: bx + 11.5, y2: by + 108 },
      style: { stroke: LINE_COLOR, lineWidth: 1 },
    });
    // panel letter
    graphic.push({
      type: "text", x: p.letterX, y: p.letterY, rotation: Math.PI / 2, z: 100,
      style: { text: p.letter, font: '24px "Liberation Serif", serif', fill: "#2a2a2a", align: "center", verticalAlign: "middle" },
    });
  });

  return {
    animation: false,
    backgroundColor: "#ffffff",
    grid,
    xAxis,
    yAxis,
    series,
    graphic,
  };
}

export default function App() {
  const ref = useRef<HTMLDivElement | null>(null);
  useEffect(() => {
    if (!ref.current) return;
    const chart = echarts.init(ref.current, undefined, { renderer: "svg" });
    chart.setOption(buildOption());
    return () => chart.dispose();
  }, []);
  return (
    <div
      ref={ref}
      style={{ position: "fixed", left: 0, top: 0, width: 912, height: 1373, background: "#fff" }}
    />
  );
}
